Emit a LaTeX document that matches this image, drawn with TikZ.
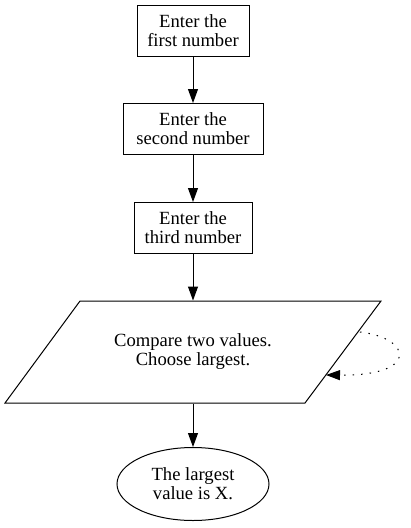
\documentclass[tikz,border=0pt]{standalone}
\usepackage{fontspec}
\setmainfont{Liberation Serif}
\usetikzlibrary{arrows.meta,shapes.geometric}
\begin{document}
\begin{tikzpicture}[x=1pt,y=-1pt,
  every node/.style={font=\fontsize{18.6}{19}\selectfont, align=center, inner sep=0pt, line width=1pt},
  procbox/.style={draw, rectangle, minimum height=51pt},
  iobox/.style={rectangle, minimum width=200pt, minimum height=102pt},
  endbox/.style={draw, ellipse, minimum width=152pt, minimum height=73pt},
  shapeline/.style={line width=1pt},
  flow/.style={line width=1pt, -{Triangle[length=14pt,width=10pt]}},
  loopflow/.style={line width=1pt, dash pattern=on 1.5pt off 7pt, -{Triangle[length=14pt,width=10pt]}}]
\useasboundingbox (0,0) rectangle (411,528);
\node[procbox, minimum width=112pt] (n1) at (193,30.5) {Enter the\\first number};
\node[procbox, minimum width=140pt] (n2) at (193,129) {Enter the\\second number};
\node[procbox, minimum width=118pt] (n3) at (193,228) {Enter the\\third number};
\node[iobox] (cmp) at (193,352) {Compare two values.\\Choose largest.};
\draw[shapeline] (80,301) -- (381,301) -- (305,403) -- (5,403) -- cycle;
\node[endbox] (res) at (193,484) {The largest\\value is X.};
\coordinate (ls) at (360,332);
\coordinate (le) at (326,375);
\draw[flow] (n1) -- (n2);
\draw[flow] (n2) -- (n3);
\draw[flow] (n3) -- (cmp);
\draw[flow] (cmp) -- (res);
\draw[loopflow] (ls) .. controls (412,338) and (420,376) .. (le);
\end{tikzpicture}
\end{document}
